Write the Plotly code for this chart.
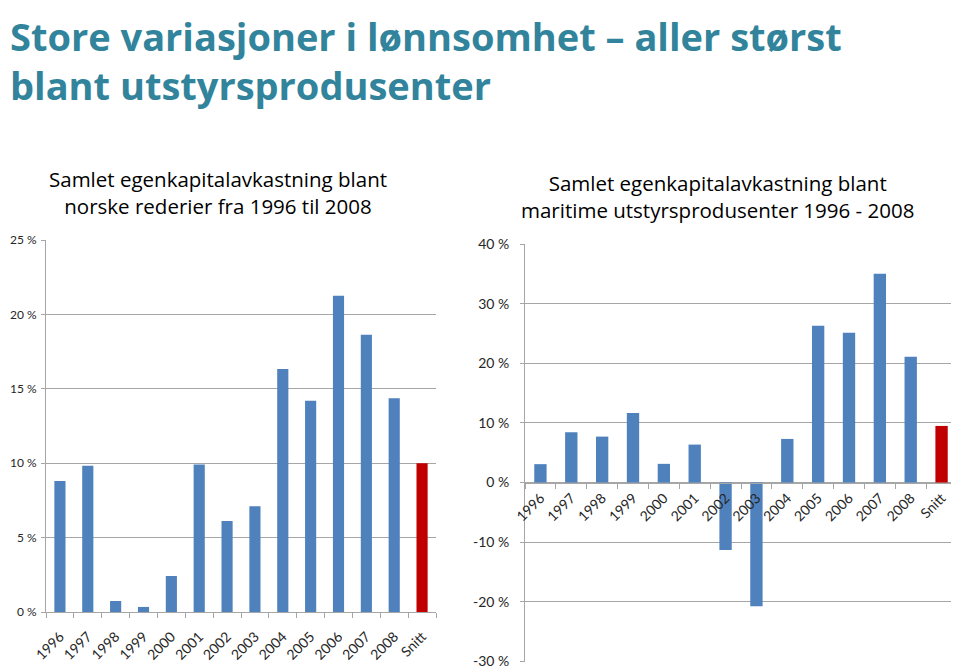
import plotly.graph_objects as go

categories = ["1996", "1997", "1998", "1999", "2000", "2001", "2002",
              "2003", "2004", "2005", "2006", "2007", "2008", "Snitt"]
rederier = [8.8, 9.83, 0.74, 0.34, 2.42, 9.92, 6.12, 7.1, 16.33, 14.2,
            21.26, 18.64, 14.36, 10.0]
utstyr = [3.08, 8.43, 7.7, 11.66, 3.13, 6.36, -11.3, -20.75, 7.31, 26.3,
          25.1, 35.0, 21.08, 9.49]
right_ticks = [-30, -20, -10, 0, 10, 20, 30, 40]
right_ticktext = [f"{v} %" for v in right_ticks]

title_lines = ["Store variasjoner i lønnsomhet – aller størst",
               "blant utstyrsprodusenter"]
sub_left = "Samlet egenkapitalavkastning blant<br>norske rederier fra 1996 til 2008"
sub_right = "Samlet egenkapitalavkastning blant<br>maritime utstyrsprodusenter 1996 - 2008"

BLUE = "#4F81BD"
RED = "#C00000"
GRID = "#A6A6A6"
FONT = "Lato"
OFF = 8  # page body margin
W, H = 959 - OFF, 670 - OFF

def colors(n):
    return [BLUE] * (n - 1) + [RED]

fig = go.Figure()
fig.add_trace(go.Bar(x=categories, y=rederier, marker_color=colors(len(categories)),
                     marker_line_width=0, xaxis="x", yaxis="y", showlegend=False))
fig.add_trace(go.Bar(x=categories, y=utstyr, marker_color=colors(len(categories)),
                     marker_line_width=0, xaxis="x2", yaxis="y2", showlegend=False))

def px_x(v):
    return (v - OFF) / W

def px_y(v):
    return 1 - (v - OFF) / H

tickfont = dict(family=FONT, size=14, color="#262626")
ytickfont_left = dict(family=FONT, size=12, color="#262626")

# left plot
l_x0, l_x1 = px_x(46), px_x(436)
l_y0, l_y1 = px_y(612), px_y(240)
# right plot
r_x0, r_x1 = px_x(525), px_x(957)
r_y0, r_y1 = px_y(662.3), px_y(244)
r_min, r_max = -30.15, 40
zero_pos = r_y0 + (0 - r_min) / (r_max - r_min) * (r_y1 - r_y0)

axis_common = dict(showline=True, linecolor=GRID, linewidth=1, ticks="outside",
                   tickcolor=GRID, automargin=False)

fig.update_layout(
    width=W, height=H,
    margin=dict(l=0, r=0, t=0, b=0, autoexpand=False),
    paper_bgcolor="white", plot_bgcolor="white",
    bargap=0.6,
    xaxis=dict(domain=[l_x0, l_x1], anchor="y", tickangle=-45, tickson="boundaries",
               showgrid=False, ticklen=5, ticklabelstandoff=10, tickfont=tickfont,
               **axis_common),
    yaxis=dict(domain=[l_y0, l_y1], anchor="x", range=[0, 25], dtick=5,
               ticksuffix=" %", showgrid=True, gridcolor=GRID, zeroline=False,
               ticklen=4, ticklabelstandoff=2, tickfont=ytickfont_left, **axis_common),
    xaxis2=dict(domain=[r_x0, r_x1], anchor="free", position=zero_pos, tickangle=-45,
                tickson="boundaries", showgrid=False, ticklen=5, ticklabelstandoff=1,
                tickfont=tickfont, **axis_common),
    yaxis2=dict(domain=[r_y0, r_y1], anchor="x2", range=[r_min, r_max],
                tickmode="array", tickvals=right_ticks, ticktext=right_ticktext,
                showgrid=True, gridcolor=GRID, zeroline=False,
                ticklen=4, ticklabelstandoff=8, tickfont=tickfont, **axis_common),
)

annotations = [
    dict(text="<b>" + "<br>".join(title_lines) + "</b>", x=px_x(8), y=px_y(8),
         xref="paper", yref="paper", xanchor="left", yanchor="top", align="left",
         showarrow=False,
         font=dict(family="Open Sans", size=38, color="#31849B")),
    dict(text=sub_left, x=px_x(218), y=px_y(193), xref="paper", yref="paper",
         xanchor="center", yanchor="middle", showarrow=False,
         font=dict(family="Open Sans", size=20.5, color="black")),
    dict(text=sub_right, x=px_x(717), y=px_y(196), xref="paper", yref="paper",
         xanchor="center", yanchor="middle", showarrow=False,
         font=dict(family="Open Sans", size=20.5, color="black")),
]
fig.update_layout(annotations=annotations)

fig.write_html("out.html")
